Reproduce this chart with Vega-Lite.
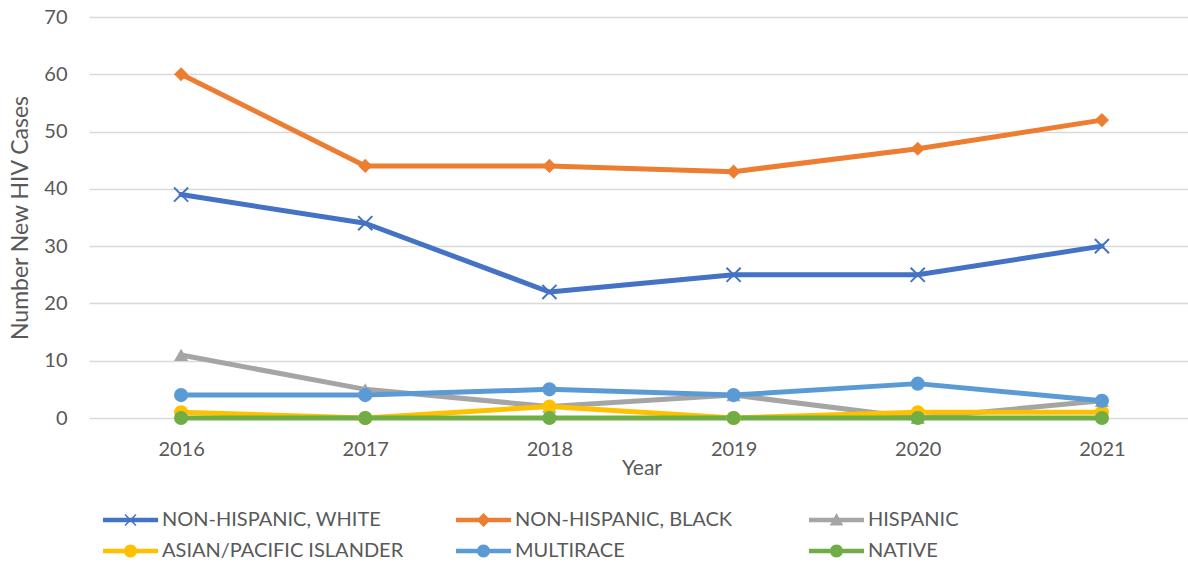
{
  "$schema": "https://vega.github.io/schema/vega-lite/v6.json",
  "width": 1105,
  "height": 401,
  "autosize": {"type": "none"},
  "padding": {"left": 89, "top": 17, "right": 0, "bottom": 147},
  "config": {"view": {"stroke": null}, "font": "Lato"},
  "data": {
    "values": [
      {"group": "NON-HISPANIC, WHITE", "year": 2016, "cases": 39},
      {"group": "NON-HISPANIC, WHITE", "year": 2017, "cases": 34},
      {"group": "NON-HISPANIC, WHITE", "year": 2018, "cases": 22},
      {"group": "NON-HISPANIC, WHITE", "year": 2019, "cases": 25},
      {"group": "NON-HISPANIC, WHITE", "year": 2020, "cases": 25},
      {"group": "NON-HISPANIC, WHITE", "year": 2021, "cases": 30},
      {"group": "NON-HISPANIC, BLACK", "year": 2016, "cases": 60},
      {"group": "NON-HISPANIC, BLACK", "year": 2017, "cases": 44},
      {"group": "NON-HISPANIC, BLACK", "year": 2018, "cases": 44},
      {"group": "NON-HISPANIC, BLACK", "year": 2019, "cases": 43},
      {"group": "NON-HISPANIC, BLACK", "year": 2020, "cases": 47},
      {"group": "NON-HISPANIC, BLACK", "year": 2021, "cases": 52},
      {"group": "HISPANIC", "year": 2016, "cases": 11},
      {"group": "HISPANIC", "year": 2017, "cases": 5},
      {"group": "HISPANIC", "year": 2018, "cases": 2},
      {"group": "HISPANIC", "year": 2019, "cases": 4},
      {"group": "HISPANIC", "year": 2020, "cases": 0},
      {"group": "HISPANIC", "year": 2021, "cases": 3},
      {"group": "ASIAN/PACIFIC ISLANDER", "year": 2016, "cases": 1},
      {"group": "ASIAN/PACIFIC ISLANDER", "year": 2017, "cases": 0},
      {"group": "ASIAN/PACIFIC ISLANDER", "year": 2018, "cases": 2},
      {"group": "ASIAN/PACIFIC ISLANDER", "year": 2019, "cases": 0},
      {"group": "ASIAN/PACIFIC ISLANDER", "year": 2020, "cases": 1},
      {"group": "ASIAN/PACIFIC ISLANDER", "year": 2021, "cases": 1},
      {"group": "MULTIRACE", "year": 2016, "cases": 4},
      {"group": "MULTIRACE", "year": 2017, "cases": 4},
      {"group": "MULTIRACE", "year": 2018, "cases": 5},
      {"group": "MULTIRACE", "year": 2019, "cases": 4},
      {"group": "MULTIRACE", "year": 2020, "cases": 6},
      {"group": "MULTIRACE", "year": 2021, "cases": 3},
      {"group": "NATIVE", "year": 2016, "cases": 0},
      {"group": "NATIVE", "year": 2017, "cases": 0},
      {"group": "NATIVE", "year": 2018, "cases": 0},
      {"group": "NATIVE", "year": 2019, "cases": 0},
      {"group": "NATIVE", "year": 2020, "cases": 0},
      {"group": "NATIVE", "year": 2021, "cases": 0}
    ]
  },
  "encoding": {
    "x": {
      "field": "year",
      "type": "ordinal",
      "scale": {"type": "point", "padding": 0.5},
      "axis": {
        "title": "Year",
        "labelAngle": 0,
        "domain": false,
        "ticks": false,
        "grid": false,
        "labelFontSize": 20,
        "labelColor": "#595959",
        "labelPadding": 21,
        "titleFontSize": 21,
        "titleFontWeight": "normal",
        "titleColor": "#595959",
        "titlePadding": -2
      }
    },
    "y": {
      "field": "cases",
      "type": "quantitative",
      "scale": {"domain": [0, 70], "nice": false},
      "axis": {
        "title": "Number New HIV Cases",
        "values": [0, 10, 20, 30, 40, 50, 60, 70],
        "domain": false,
        "ticks": false,
        "grid": true,
        "gridColor": "#D9D9D9",
        "gridWidth": 1.3,
        "labelFontSize": 20,
        "labelColor": "#595959",
        "labelPadding": 22,
        "titleFontSize": 23,
        "titleFontWeight": "normal",
        "titleColor": "#595959",
        "titlePadding": 11
      }
    },
    "color": {
      "field": "group",
      "type": "nominal",
      "sort": null,
      "scale": {
        "domain": ["NON-HISPANIC, WHITE", "NON-HISPANIC, BLACK", "HISPANIC", "ASIAN/PACIFIC ISLANDER", "MULTIRACE", "NATIVE"],
        "range": ["#4472C4", "#ED7D31", "#A5A5A5", "#FFC000", "#5B9BD5", "#70AD47"]
      },
      "legend": {
        "title": null,
        "orient": "none",
        "legendX": 14,
        "legendY": 493,
        "direction": "horizontal",
        "columns": 3,
        "gridAlign": "all",
        "columnPadding": 52,
        "rowPadding": 11,
        "padding": 0,
        "symbolSize": 100,
        "labelFontSize": 20,
        "labelColor": "#595959",
        "labelLimit": 400,
        "encode": {
          "symbols": {
            "update": {
              "x": {"value": 27.5},
              "shape": {
                "signal": "datum.value === 'NON-HISPANIC, WHITE' ? 'M-5.5,-0.45H5.5V0.45H-5.5Z M-0.994,-1.206L1.206,0.994L0.994,1.206L-1.206,-0.994Z M-1.206,0.994L0.994,-1.206L1.206,-0.994L-0.994,1.206Z' : datum.value === 'NON-HISPANIC, BLACK' ? 'M-5.5,-0.45H5.5V0.45H-5.5Z M0,-1.4L1.4,0L0,1.4L-1.4,0Z' : datum.value === 'HISPANIC' ? 'M-5.5,-0.45H5.5V0.45H-5.5Z M0,-1.4L1.35,1.1L-1.35,1.1Z' : 'M-5.5,-0.45H5.5V0.45H-5.5Z M-1.3,0A1.3,1.3 0 1,1 1.3,0A1.3,1.3 0 1,1 -1.3,0Z'"
              },
              "stroke": {"value": "transparent"},
              "strokeWidth": {"value": 0},
              "opacity": {"value": 1}
            }
          },
          "labels": {
            "update": {
              "x": {"value": 59}
            }
          }
        }
      }
    }
  },
  "layer": [
    {
      "mark": {"type": "line", "strokeWidth": 5, "strokeJoin": "round", "strokeCap": "round"}
    },
    {
      "mark": {"type": "point", "filled": true, "opacity": 1, "size": 200},
      "encoding": {
        "shape": {
          "condition": [
            {"test": "datum.group === 'NON-HISPANIC, WHITE'", "value": "M-0.9,-1.1L1.1,0.9L0.9,1.1L-1.1,-0.9Z M-1.1,0.9L0.9,-1.1L1.1,-0.9L-0.9,1.1Z"},
            {"test": "datum.group === 'NON-HISPANIC, BLACK'", "value": "diamond"},
            {"test": "datum.group === 'HISPANIC'", "value": "triangle-up"}
          ],
          "value": "circle"
        }
      }
    }
  ]
}
